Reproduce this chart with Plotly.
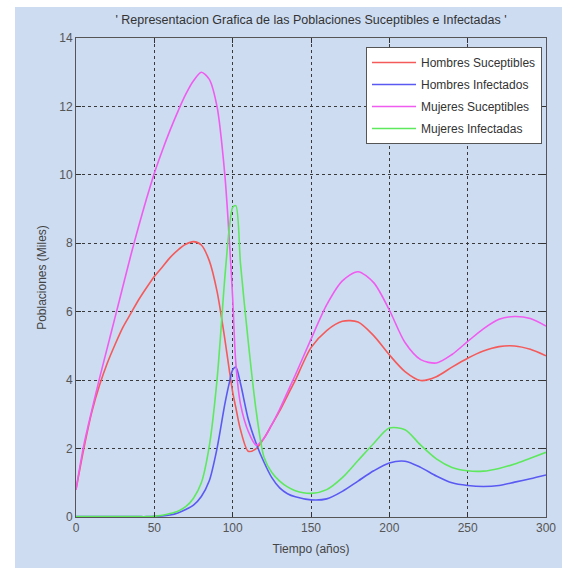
import plotly.graph_objects as go

# Time (años)
tiempo = [0, 5, 10, 15, 20, 25, 30, 35, 40, 45, 50, 55, 60, 65, 70, 75, 80, 85, 90, 95,
          98, 100, 102, 105, 110, 115, 120, 125, 130, 135, 140, 150, 160, 170, 180, 190, 200,
          210, 220, 230, 240, 250, 260, 270, 280, 290, 300]

hombres_suceptibles = [0.8, 2.0, 3.05, 3.85, 4.5, 5.05, 5.55, 5.95, 6.35, 6.7, 7.03, 7.3, 7.58, 7.8, 7.97, 8.05, 7.95, 7.5, 6.6, 5.2,
                       4.25, 3.65, 3.2, 2.55, 1.92, 2.0, 2.3, 2.7, 3.1, 3.55, 4.0, 4.95, 5.45, 5.72, 5.7, 5.3, 4.74,
                       4.25, 3.99, 4.1, 4.38, 4.64, 4.85, 4.98, 5.0, 4.9, 4.71]

hombres_infectados = [0.01, 0.01, 0.01, 0.01, 0.01, 0.01, 0.01, 0.01, 0.01, 0.01, 0.02, 0.03, 0.06, 0.12, 0.22, 0.35, 0.6, 1.05, 2.0, 3.3,
                      3.95, 4.3, 4.38, 3.9, 2.85, 2.15, 1.6, 1.15, 0.85, 0.68, 0.59, 0.5, 0.53, 0.75, 1.05, 1.35, 1.58,
                      1.63, 1.45, 1.2, 1.0, 0.92, 0.89, 0.92, 1.02, 1.12, 1.23]

mujeres_suceptibles = [0.8, 2.1, 3.1, 4.05, 4.95, 5.85, 6.75, 7.65, 8.5, 9.3, 10.05, 10.7, 11.3, 11.85, 12.35, 12.75, 13.0, 12.8, 12.0, 10.0,
                       8.0, 6.4, 4.5, 3.3, 2.5, 2.1, 2.3, 2.7, 3.15, 3.65, 4.15, 5.2, 6.2, 6.9, 7.17, 6.85, 6.05,
                       5.1, 4.6, 4.5, 4.75, 5.13, 5.5, 5.78, 5.86, 5.8, 5.58]

mujeres_infectadas = [0.01, 0.01, 0.01, 0.01, 0.01, 0.01, 0.01, 0.01, 0.01, 0.01, 0.02, 0.05, 0.1, 0.17, 0.3, 0.55, 1.0, 2.05, 4.0, 7.0,
                      8.5, 9.05, 9.1, 7.4, 5.1, 3.1, 1.75, 1.3, 1.05, 0.88, 0.77, 0.69, 0.8, 1.15, 1.65, 2.15, 2.6,
                      2.55, 2.1, 1.7, 1.45, 1.35, 1.34, 1.42, 1.55, 1.72, 1.89]

series_names = ["Hombres Suceptibles", "Hombres Infectados", "Mujeres Suceptibles", "Mujeres Infectadas"]
series_values = [hombres_suceptibles, hombres_infectados, mujeres_suceptibles, mujeres_infectadas]
series_colors = ["#f45a5a", "#5a5af2", "#f05cf0", "#5ee85e"]

x_ticks = [0, 50, 100, 150, 200, 250, 300]
y_ticks = [0, 2, 4, 6, 8, 10, 12, 14]

FONT = "Liberation Sans, Arial, sans-serif"

fig = go.Figure()
for name, vals, col in zip(series_names, series_values, series_colors):
    fig.add_trace(go.Scatter(x=tiempo, y=vals, mode="lines", name=name, legendgroup=name,
                             line=dict(color=col, width=1.6, shape="spline", smoothing=0.8)))

axis_common = dict(showline=True, linecolor="#555555", linewidth=1, mirror="allticks",
                   ticks="inside", ticklen=5, tickcolor="#333333",
                   showgrid=True, gridcolor="#3a3a3a", griddash="dot", gridwidth=1,
                   zeroline=False, tickfont=dict(family=FONT, size=12, color="#555555"))

fig.update_xaxes(range=[0, 300], tickvals=x_ticks, ticktext=[str(v) for v in x_ticks],
                 title=dict(text="Tiempo (años)", font=dict(family=FONT, size=12, color="#444444"), standoff=10),
                 **axis_common)
fig.update_yaxes(range=[0, 14], tickvals=y_ticks, ticktext=[str(v) for v in y_ticks],
                 title=dict(text="Poblaciones (Miles)", font=dict(family=FONT, size=12, color="#444444"), standoff=10),
                 **axis_common)

fig.update_layout(
    width=572, height=569,
    margin=dict(l=76, r=26, t=38, b=52),
    paper_bgcolor="white", plot_bgcolor="white",
    title=dict(text="' Representacion Grafica de las Poblaciones Suceptibles e Infectadas '",
               x=(76 + 235) / 572, xanchor="center", y=1 - 20 / 569, yanchor="middle",
               font=dict(family=FONT, size=12.5, color="#333333")),
    legend=dict(x=(542 - 76) / 470, y=(517 - 47) / 479, xanchor="right", yanchor="top",
                bgcolor="white", bordercolor="#555555", borderwidth=1,
                font=dict(family=FONT, size=12, color="#333333"),
                itemwidth=44, tracegroupgap=3),
    shapes=[dict(type="rect", xref="paper", yref="paper", layer="below",
                 x0=-(76 - 15) / 470, x1=(562 - 76) / 470,
                 y0=-(568 - 517) / 479, y1=(517 - 7) / 479,
                 fillcolor="#cddcf1", line=dict(width=0))],
    showlegend=True,
)

fig.write_html("out.html", config={"displayModeBar": False},
               post_script="document.body.style.margin='0px';")
